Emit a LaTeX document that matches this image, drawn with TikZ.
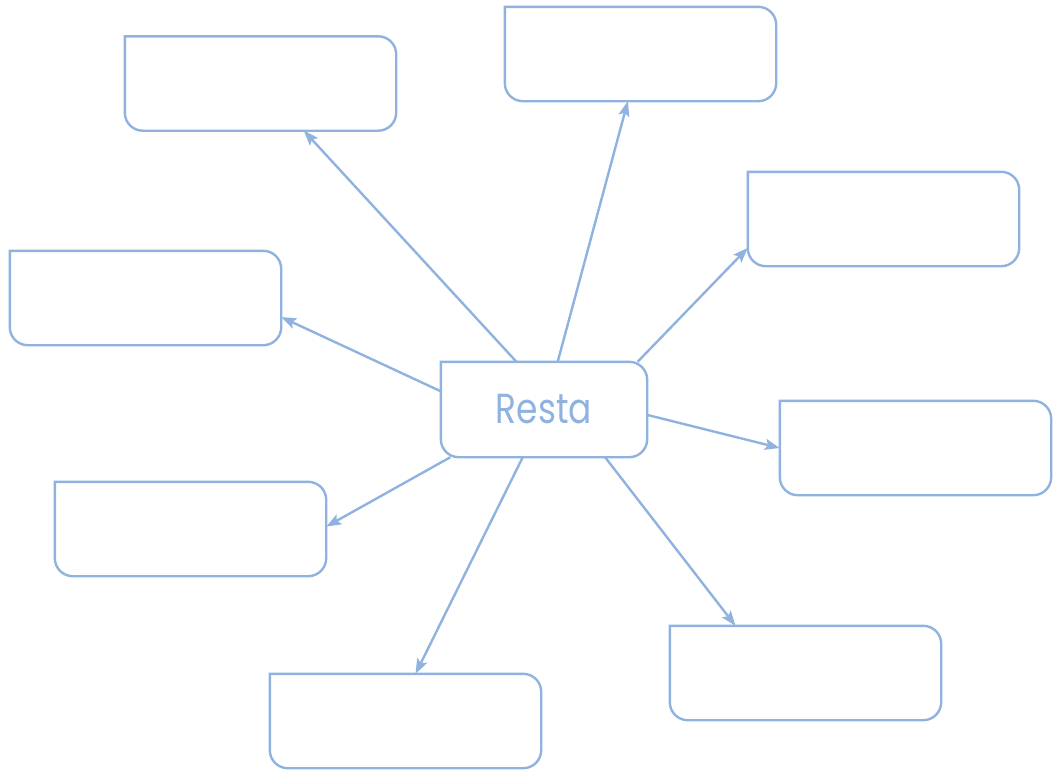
\documentclass[tikz,border=0pt]{standalone}
\usepackage{fontspec}
\setmainfont{Poppins}[FakeStretch=0.82]
\usetikzlibrary{arrows.meta}
\definecolor{mapblue}{RGB}{143,178,223}
\tikzset{
  box/.style={minimum width=271pt,minimum height=94pt,inner sep=0pt},
  hub/.style={minimum width=206pt,minimum height=95pt,inner sep=0pt,
    text=mapblue,font=\fontsize{42}{50}\selectfont},
  frame/.style={draw=mapblue,line width=2.4pt,rounded corners=18pt,line cap=rect},
  link/.style={draw=mapblue,line width=2.4pt,
    -{Stealth[length=15pt,width=11pt,inset=3pt]}}
}
% square top left corner, the other three rounded
\newcommand{\cardframe}[1]{\draw[frame] (#1.north west) -- (#1.north east)
  -- (#1.south east) -- (#1.south west) -- (#1.north west);}
\begin{document}
\begin{tikzpicture}[x=1pt,y=-1pt]
  \useasboundingbox (0,0) rectangle (1059,769);
  \node[hub] (resta) at (544,409.5) {Resta};
  \node[box] (b1) at (260.5,83.5) {};
  \node[box] (b2) at (640.5,54) {};
  \node[box] (b3) at (883.5,219) {};
  \node[box] (b4) at (145.5,298) {};
  \node[box] (b5) at (915.5,448) {};
  \node[box] (b6) at (190.5,529) {};
  \node[box] (b7) at (805.5,673) {};
  \node[box] (b8) at (405.5,721) {};
  \foreach \n in {resta,b1,b2,b3,b4,b5,b6,b7,b8}
    \cardframe{\n};

  \draw[link] (resta.120.5) -- (b1);
  \draw[link] (resta.74.7) -- (b2);
  \draw[link] (resta.27.8) -- (b3.192);
  \draw[link] (resta.170.9) -- (b4.352.4);
  \draw[link] (resta.357.5) -- (b5.west);
  \draw[link] (resta.207) -- (b6.1);
  \draw[link] (resta.322.1) -- (b7.146.3);
  \draw[link] (resta.246.1) -- (b8.78.6);
\end{tikzpicture}
\end{document}
